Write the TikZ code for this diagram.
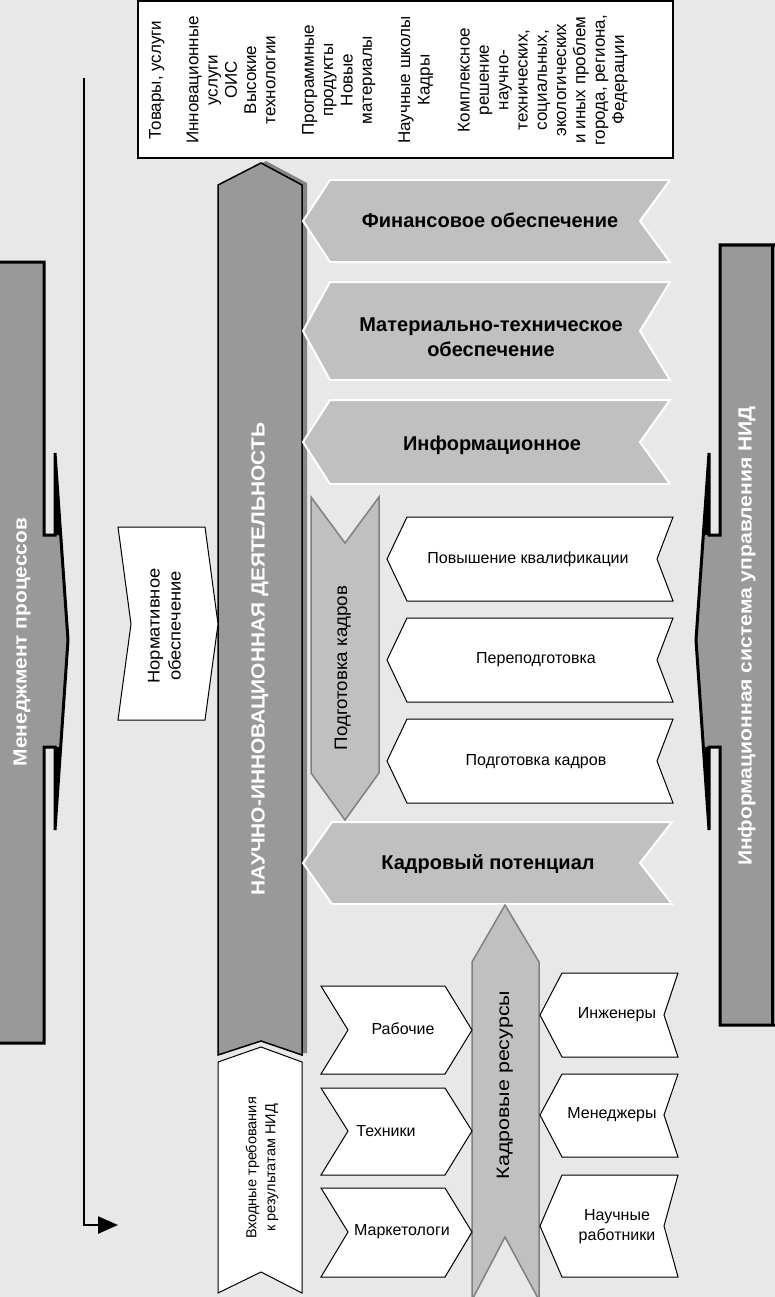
\documentclass[tikz,border=0pt]{standalone}
\usepackage{fontspec}
\usepackage{graphicx}
\setmainfont{Liberation Sans}
\usetikzlibrary{arrows.meta}
\definecolor{cBg}{HTML}{E8E8E8}
\definecolor{cDark}{HTML}{999999}
\definecolor{cLight}{HTML}{C0C0C0}
\definecolor{cEdge}{HTML}{808080}
\definecolor{cShadow}{HTML}{858585}
\newcommand\vtxt[2]{\scalebox{#1}[1]{\begin{tabular}{@{}c@{}}#2\end{tabular}}}
\begin{document}
\begin{tikzpicture}[x=1pt,y=-1pt,
  barshape/.style={fill=cDark,draw=black,line width=3pt,line join=miter},
  centralbar/.style={fill=cDark,draw=black,line width=1.5pt,line join=miter},
  graych/.style={fill=cLight,draw=white,line width=2pt,line join=miter},
  whitech/.style={fill=white,draw=black,line width=1pt,line join=miter},
  vch/.style={fill=cLight,draw=cEdge,line width=1.5pt,line join=miter},
  lbl/.style={font=\fontsize{16}{19}\selectfont,align=center,inner sep=0pt},
  vlbl/.style={font=\fontsize{18}{21}\selectfont,rotate=90,inner sep=0pt},
  boldlbl/.style={font=\fontsize{20}{25}\selectfont\bfseries,align=center,inner sep=0pt},
  whitebold/.style={font=\fontsize{19}{23}\selectfont\bfseries,text=white,rotate=90,inner sep=0pt},
  toplbl/.style={font=\fontsize{17}{19.3}\selectfont,rotate=90,inner sep=0pt}
]
\useasboundingbox (0,0) rectangle (775,1297);
\fill[cBg] (0,0) rectangle (775,1297);

% top box
\draw[fill=white,line width=1.5pt] (138,1) rectangle (673,158);
\node[toplbl] (t1) at (157,80) {\vtxt{1}{Товары, услуги}};
\node[toplbl] (t2) at (233,80) {\vtxt{1}{Инновационные\\услуги\\ОИС\\Высокие\\технологии}};
\node[toplbl] (t3) at (339,80) {\vtxt{1}{Программные\\продукты\\Новые\\материалы}};
\node[toplbl] (t4) at (416,80) {\vtxt{1}{Научные школы\\Кадры}};
\node[toplbl] (t5) at (543,80) {\vtxt{1}{Комплексное\\решение\\научно-\\технических,\\социальных,\\экологических\\и иных проблем\\города, региона,\\Федерации}};

% left timeline arrow
\coordinate (lstart) at (84,78);
\coordinate (lcorner) at (84,1225);
\coordinate (lend) at (118,1225);
\draw[line width=2.5pt,-{Triangle[length=20pt,width=17pt]}] (lstart) -- (lcorner) -- (lend);

% left bar
\draw[barshape] (0,262) -- (44,262) -- (44,535) -- (55,535) -- (55,453) -- (68,640) -- (55,830) -- (55,747) -- (44,747) -- (44,1043) -- (0,1043);
\fill[black] (55,453) -- (60.7,535) -- (55,535) -- cycle;
\fill[black] (55,747) -- (60.7,747) -- (55,830) -- cycle;
\node[whitebold] (mgmt) at (22,642) {\vtxt{1.1}{Менеджмент процессов}};

% right bar
\draw[barshape] (775,245) -- (720,245) -- (720,535) -- (709,535) -- (709,453) -- (696,640) -- (709,830) -- (709,747) -- (720,747) -- (720,1025) -- (775,1025);
\draw[black,line width=3pt] (772,245) -- (772,1025);
\fill[black] (709,453) -- (703.3,535) -- (709,535) -- cycle;
\fill[black] (709,747) -- (703.3,747) -- (709,830) -- cycle;
\node[whitebold] (info) at (747,636) {\vtxt{1.11}{Информационная система управления НИД}};

% central bar with shadow
\fill[cShadow] (223,183) -- (266,161) -- (307,183) -- (307,1053) -- (302,1053) -- cycle;
\draw[centralbar] (218,185) -- (261,163) -- (302,185) -- (302,1055) -- (261,1041) -- (218,1055) -- cycle;
\node[whitebold] (nid) at (260,659) {\vtxt{1.1}{НАУЧНО-ИННОВАЦИОННАЯ ДЕЯТЕЛЬНОСТЬ}};

% input requirements
\draw[whitech] (218,1062) -- (261,1047) -- (302,1062) -- (302,1293) -- (261,1272) -- (218,1293) -- cycle;
\node[font=\fontsize{14.5}{19}\selectfont,rotate=90,inner sep=0pt] (vhod) at (262,1168) {\vtxt{1.0}{Входные требования\\к результатам НИД}};

% normative
\draw[whitech] (118,527) -- (205,527) -- (218,624) -- (205,720) -- (118,720) -- (131,624) -- cycle;
\node[font=\fontsize{17}{21}\selectfont,rotate=90,inner sep=0pt] (norm) at (166,626) {\vtxt{1.08}{Нормативное\\обеспечение}};

% gray chevrons
\draw[graych] (330,180) -- (670,180) -- (640,221) -- (670,262) -- (330,262) -- (303,221) -- cycle;
\node[boldlbl] (fin) at (490,220) {Финансовое обеспечение};
\draw[graych] (330,282) -- (670,282) -- (640,331) -- (670,380) -- (330,380) -- (303,331) -- cycle;
\node[boldlbl] (mat) at (491,337) {Материально-техническое\\обеспечение};
\draw[graych] (330,400) -- (670,400) -- (640,442) -- (670,484) -- (330,484) -- (303,442) -- cycle;
\node[boldlbl] (inf) at (492,445) {Информационное};
\draw[graych] (332,822) -- (672,822) -- (640,863) -- (672,904) -- (332,904) -- (303,863) -- cycle;
\node[boldlbl] (kp) at (488,864) {Кадровый потенциал};

% podgotovka vertical
\draw[vch] (311,497) -- (345,543) -- (379,497) -- (379,773) -- (345,820) -- (311,773) -- cycle;
\node[vlbl] (podv) at (343,668) {\vtxt{1.04}{Подготовка кадров}};

% white chevrons (upper right)
\draw[whitech] (407,517) -- (673,517) -- (657,559) -- (673,601) -- (407,601) -- (387,559) -- cycle;
\node[lbl] (pk) at (528,559) {Повышение квалификации};
\draw[whitech] (407,618) -- (673,618) -- (657,660) -- (673,702) -- (407,702) -- (387,660) -- cycle;
\node[lbl] (pp) at (536,660) {Переподготовка};
\draw[whitech] (407,719) -- (673,719) -- (657,761) -- (673,803) -- (407,803) -- (387,761) -- cycle;
\node[lbl] (pkh) at (536,762) {Подготовка кадров};

% kadrovye resursy vertical
\draw[vch] (472,962) -- (505,905) -- (539,962) -- (539,1300) -- (505,1237) -- (472,1300) -- cycle;
\node[vlbl] (kr) at (505,1085) {\vtxt{1.19}{Кадровые ресурсы}};

% left white chevrons
\draw[whitech] (321,986) -- (445,986) -- (472,1030) -- (445,1074) -- (321,1074) -- (348,1030) -- cycle;
\node[lbl] (rab) at (403,1029) {Рабочие};
\draw[whitech] (321,1088) -- (445,1088) -- (472,1131) -- (445,1175) -- (321,1175) -- (348,1131) -- cycle;
\node[lbl] (teh) at (386,1131) {Техники};
\draw[whitech] (321,1188) -- (445,1188) -- (472,1232) -- (445,1277) -- (321,1277) -- (348,1232) -- cycle;
\node[lbl] (mark) at (402,1232) {Маркетологи};

% right white chevrons
\draw[whitech] (562,973) -- (678,973) -- (664,1015) -- (678,1057) -- (562,1057) -- (540,1015) -- cycle;
\node[lbl] (ing) at (617,1015) {Инженеры};
\draw[whitech] (562,1074) -- (678,1074) -- (664,1115) -- (678,1157) -- (562,1157) -- (540,1115) -- cycle;
\node[lbl] (man) at (612,1115) {Менеджеры};
\draw[whitech] (562,1175) -- (678,1175) -- (664,1226) -- (678,1277) -- (562,1277) -- (540,1226) -- cycle;
\node[lbl,font=\fontsize{16}{20}\selectfont] (nauch) at (617,1227) {Научные\\работники};
\end{tikzpicture}
\end{document}
